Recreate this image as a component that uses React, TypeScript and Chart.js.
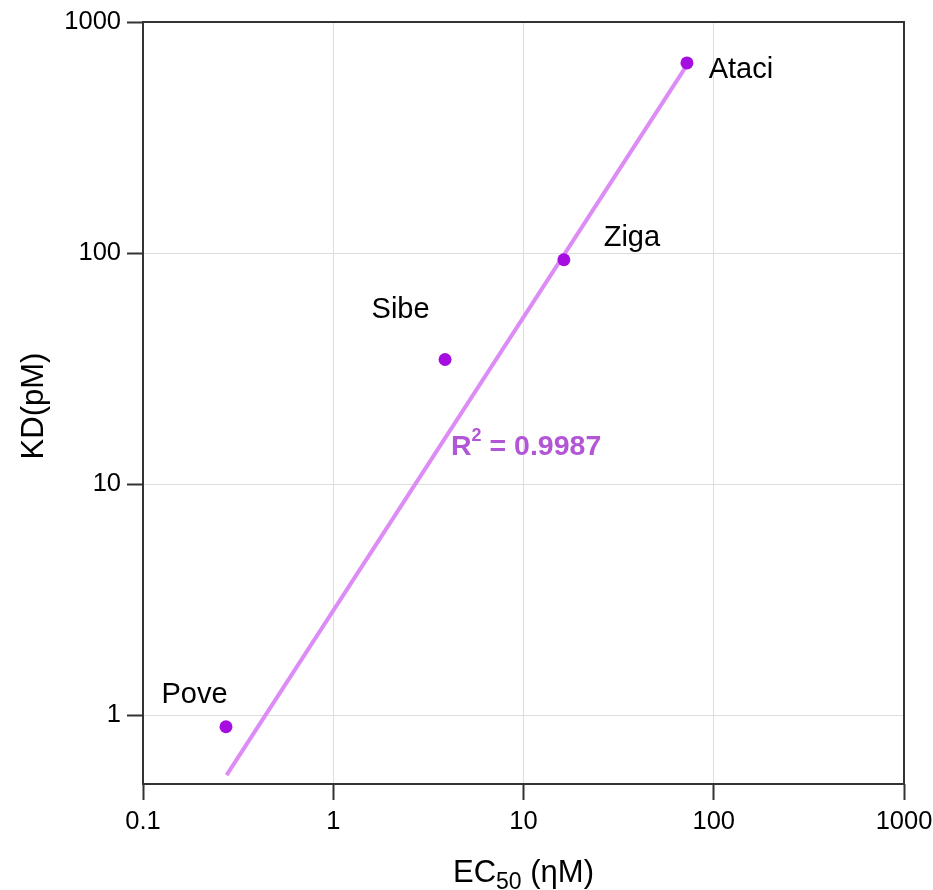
import React, { useEffect, useRef } from "react";
import { Chart, registerables } from "chart.js";

Chart.register(...registerables);

// Data
const names = ["Pove", "Sibe", "Ziga", "Ataci"];
const ec50 = [0.273, 3.87, 16.3, 72.3];
const kd = [0.89, 34.6, 93.5, 665];
const fitX = [0.275, 70.6];
const fitY = [0.55, 632];
const xTicks = [0.1, 1, 10, 100, 1000];
const yTicks = [1, 10, 100, 1000];
const rSquared = "0.9987";
const rAnchor = { x: 4.16, y: 14.7 };

// label placement (pixel offsets from the point, text centre / baseline)
const labelOffsets = [
  { dx: -31.5, dy: -24 },
  { dx: -44.5, dy: -42 },
  { dx: 68, dy: -13.3 },
  { dx: 54, dy: 15 },
];

const FONT = '"Liberation Sans", Arial, sans-serif';
const AXIS = "#333333";

const overlay = {
  id: "overlay",
  afterDatasetsDraw(chart: any) {
    const { ctx, chartArea, scales } = chart;
    const xs = scales.x;
    const ys = scales.y;
    ctx.save();
    // box
    ctx.strokeStyle = AXIS;
    ctx.lineWidth = 2;
    ctx.strokeRect(chartArea.left, chartArea.top, chartArea.right - chartArea.left, chartArea.bottom - chartArea.top);

    // point labels
    ctx.fillStyle = "#000";
    ctx.font = `29px ${FONT}`;
    ctx.textAlign = "center";
    ctx.textBaseline = "alphabetic";
    names.forEach((n, i) => {
      const px = xs.getPixelForValue(ec50[i]);
      const py = ys.getPixelForValue(kd[i]);
      ctx.fillText(n, px + labelOffsets[i].dx, py + labelOffsets[i].dy);
    });

    // R^2
    const rx = xs.getPixelForValue(rAnchor.x);
    const ry = ys.getPixelForValue(rAnchor.y) + 10;
    ctx.fillStyle = "#b356d6";
    ctx.textAlign = "left";
    ctx.font = `bold 28.5px ${FONT}`;
    ctx.fillText("R", rx, ry);
    let w = ctx.measureText("R").width;
    ctx.font = `bold 18px ${FONT}`;
    ctx.fillText("2", rx + w, ry - 14);
    w += ctx.measureText("2").width;
    ctx.font = `bold 28.5px ${FONT}`;
    ctx.fillText(" = " + rSquared, rx + w, ry);

    // x title with subscript
    ctx.fillStyle = "#000";
    const big = `31px ${FONT}`;
    const small = `23px ${FONT}`;
    ctx.font = big;
    const w1 = ctx.measureText("EC").width;
    const w3 = ctx.measureText(" (ηM)").width;
    ctx.font = small;
    const w2 = ctx.measureText("50").width;
    const total = w1 + w2 + w3;
    const cx = (chartArea.left + chartArea.right) / 2;
    let sx = cx - total / 2;
    const base = 882;
    ctx.font = big;
    ctx.fillText("EC", sx, base);
    ctx.font = small;
    ctx.fillText("50", sx + w1, base + 7);
    ctx.font = big;
    ctx.fillText(" (ηM)", sx + w1 + w2, base);

    // y title
    ctx.translate(43, (chartArea.top + chartArea.bottom) / 2 + 3);
    ctx.rotate(-Math.PI / 2);
    ctx.textAlign = "center";
    ctx.fillText("KD(pM)", 0, 0);
    ctx.restore();
  },
};

export default function App() {
  const ref = useRef<HTMLCanvasElement>(null);
  useEffect(() => {
    if (!ref.current) return;
    const chart = new Chart(ref.current, {
      type: "scatter",
      data: {
        datasets: [
          {
            label: "points",
            data: ec50.map((x, i) => ({ x, y: kd[i] })),
            backgroundColor: "#a50de0",
            borderColor: "#a50de0",
            pointRadius: 6.5,
            borderWidth: 0,
          },
          {
            type: "line",
            label: "fit",
            data: fitX.map((x, i) => ({ x, y: fitY[i] })),
            borderColor: "#dd8cf5",
            borderWidth: 4,
            pointRadius: 0,
            borderCapStyle: "butt",
            fill: false,
          } as any,
        ],
      },
      options: {
        responsive: false,
        animation: false,
        devicePixelRatio: 1,
        layout: { padding: { left: 0, top: 22, right: 29, bottom: 0 } },
        plugins: { legend: { display: false }, tooltip: { enabled: false } },
        scales: {
          x: {
            type: "logarithmic",
            min: 0.1,
            max: 1000,
            afterBuildTicks: (s: any) => {
              s.ticks = xTicks.map((v) => ({ value: v }));
            },
            afterFit: (s: any) => {
              s.height = 106;
              s.paddingLeft = 0;
              s.paddingRight = 0;
            },
            border: { display: false },
            grid: {
              color: "#dddddd",
              lineWidth: 1,
              drawTicks: true,
              tickLength: 16,
              tickColor: AXIS,
              tickWidth: 2,
            },
            ticks: {
              color: "#000",
              font: { family: FONT, size: 25.5 },
              padding: 7,
              maxRotation: 0,
              autoSkip: false,
              callback: (v: any) => String(v),
            },
          },
          y: {
            type: "logarithmic",
            min: 0.503,
            max: 1000,
            afterBuildTicks: (s: any) => {
              s.ticks = yTicks.map((v) => ({ value: v }));
            },
            afterFit: (s: any) => {
              s.width = 143;
              s.paddingTop = 0;
              s.paddingBottom = 0;
            },
            border: { display: false },
            grid: {
              color: "#dddddd",
              lineWidth: 1,
              drawTicks: true,
              tickLength: 16,
              tickColor: AXIS,
              tickWidth: 2,
            },
            ticks: {
              color: "#000",
              font: { family: FONT, size: 25.5 },
              padding: 6,
              autoSkip: false,
              callback: (v: any) => String(v),
            },
          },
        },
      },
      plugins: [overlay],
    });
    return () => chart.destroy();
  }, []);
  return (
    <div style={{ position: "fixed", left: 0, top: 0, width: 933, height: 890, background: "#fff" }}>
      <canvas ref={ref} width={933} height={890} style={{ width: 933, height: 890 }} />
    </div>
  );
}
